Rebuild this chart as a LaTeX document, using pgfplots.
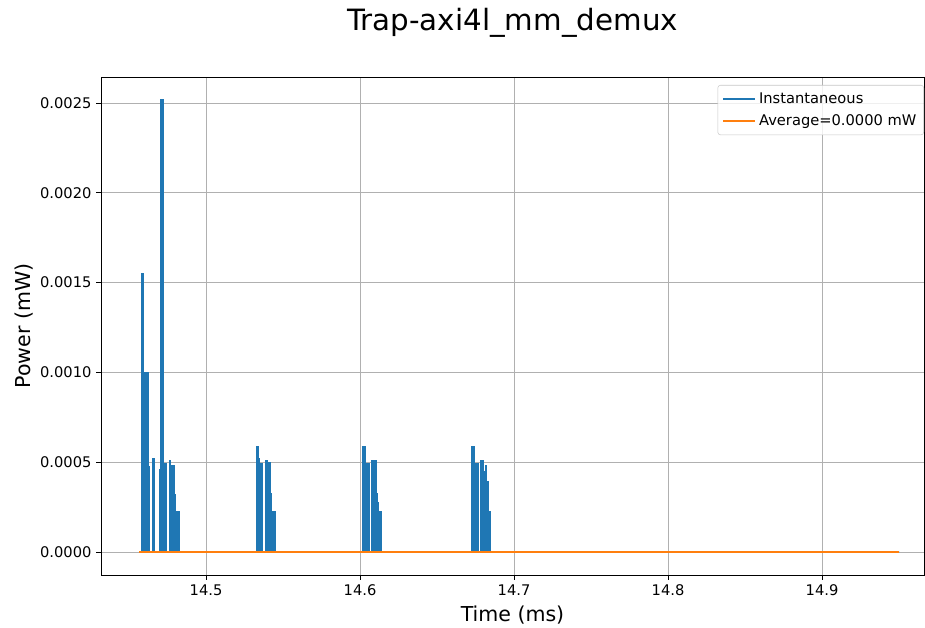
\documentclass[border=0pt]{standalone}
\usepackage{fontspec}
\setmainfont{DejaVu Sans}
\usepackage{pgfplots}
\pgfplotsset{compat=1.18}
\definecolor{mblue}{HTML}{1F77B4}
\definecolor{morange}{HTML}{FF7F0E}
\definecolor{mgrid}{HTML}{B0B0B0}
\begin{document}
\begin{tikzpicture}
\useasboundingbox (-75.75pt,-39.75pt) rectangle (618pt,431.25pt);
\begin{axis}[
  scale only axis,
  width=617.25pt, height=373.5pt,
  xmin=14.4318, xmax=14.9662,
  ymin=-0.000128, ymax=0.002645,
  xtick={14.5,14.6,14.7,14.8,14.9},
  ytick={0,0.0005,0.001,0.0015,0.002,0.0025},
  scaled y ticks=false, scaled x ticks=false,
  /pgf/number format/assume math mode=true,
  xticklabel style={/pgf/number format/.cd, fixed, fixed zerofill, precision=1},
  yticklabel style={/pgf/number format/.cd, fixed, fixed zerofill, precision=4},
  ticklabel style={font=\fontsize{11}{13}\selectfont},
  tick align=outside, major tick length=3.6pt, tick pos=left,
  tick style={black, line width=0.6pt},
  axis line style={line width=0.6pt},
  grid=major,
  grid style={mgrid, line width=0.6pt},
  title={Trap-axi4l\_mm\_demux},
  title style={at={(axis description cs:0.5,1)}, anchor=base, yshift=29pt, font=\fontsize{22}{26}\selectfont},
  xlabel={Time (ms)},
  ylabel={Power (mW)},
  xlabel style={at={(axis description cs:0.5,0)}, anchor=base, yshift=-35.25pt, font=\fontsize{15.4}{18}\selectfont},
  ylabel style={at={(axis description cs:0,0.5)}, anchor=base, yshift=53pt, font=\fontsize{15.4}{18}\selectfont},
  legend style={at={(axis description cs:1,1)}, anchor=north east, yshift=-6pt, xshift=0pt,
    draw=mgrid!70, rounded corners=2pt, fill=white, fill opacity=0.8, text opacity=1,
    font=\fontsize{11}{13}\selectfont, row sep=3pt, inner sep=3.5pt},
  legend cell align=left,
  legend image code/.code={\draw[#1, line width=1.5pt] (0pt,0pt) -- (24pt,0pt);},
]
\addplot[const plot, draw=mblue, fill=mblue, line width=0.8pt, forget plot] coordinates {
(14.4565,0) (14.4578,0.000106) (14.45825,0.001552) (14.45929,0.000998) (14.46234,0.000475) (14.46299,0)
(14.46539,0.000522) (14.46643,0)
(14.47013,0.000457) (14.47078,0.00252) (14.47208,0.000457) (14.47292,0.000494) (14.47448,0)
(14.47617,0.000512) (14.47708,0.000484) (14.47922,0.000321) (14.48006,0.000228) (14.48266,0)
(14.53292,0.000586) (14.53422,0.00052) (14.53487,0.000457) (14.53552,0.000495) (14.53682,0)
(14.53877,0.000508) (14.54006,0.000498) (14.54156,0.000323) (14.54240,0.000228) (14.54481,0)
(14.60175,0.000586) (14.60325,0.000457) (14.60435,0.000495) (14.60584,0)
(14.60734,0.000508) (14.61039,0.000323) (14.61123,0.000275) (14.61188,0.000228) (14.61364,0)
(14.67253,0.000586) (14.67448,0.000457) (14.67532,0.000495) (14.67682,0)
(14.67838,0.000508) (14.68006,0.00045) (14.68117,0.00048) (14.68227,0.000395) (14.68312,0.000228) (14.68487,0)
(14.95,0)
} \closedcycle;
\addplot[mblue, line width=1.5pt] coordinates {(14.4565,0) (14.95,0)};
\addlegendentry{Instantaneous}
\addplot[morange, line width=1.5pt] coordinates {(14.4565,0) (14.95,0)};
\addlegendentry{Average=0.0000 mW}
\end{axis}
\end{tikzpicture}
\end{document}
